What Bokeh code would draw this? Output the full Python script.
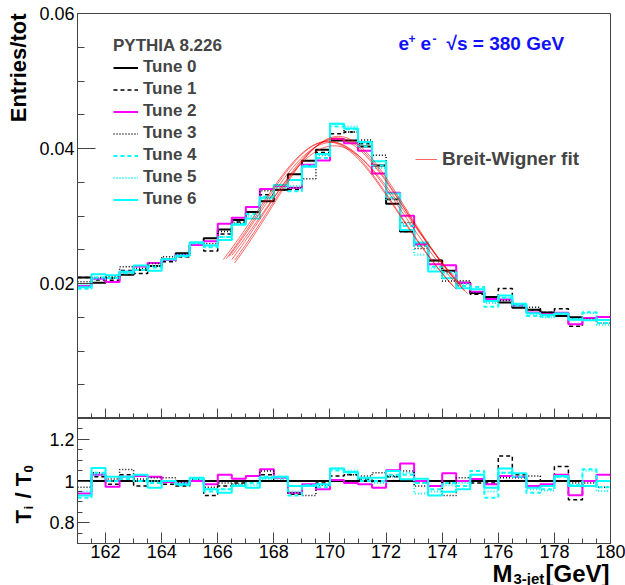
import numpy as np
from bokeh.plotting import figure
from bokeh.layouts import column, row
from bokeh.models import Range1d, FixedTicker, Label, Legend, LegendItem, CustomJSTickFormatter
from bokeh.embed import file_html
from bokeh.resources import INLINE

# ---------------- data ----------------
bin_lo, bin_hi, bin_w = 161.0, 180.0, 0.5
edges = np.arange(bin_lo, bin_hi + 1e-9, bin_w)

tune_names = ["Tune 0", "Tune 1", "Tune 2", "Tune 3", "Tune 4", "Tune 5", "Tune 6"]

tune0 = [0.0209, 0.0201, 0.0208, 0.0213, 0.0220, 0.0226, 0.0236, 0.0245, 0.0257, 0.0267,
         0.0280, 0.0294, 0.0306, 0.0322, 0.0339, 0.0362, 0.0382, 0.0398, 0.0412, 0.0412,
         0.0403, 0.0375, 0.0318, 0.0277, 0.0258, 0.0234, 0.0219, 0.0201, 0.0186, 0.0180,
         0.0172, 0.0164, 0.0161, 0.0157, 0.0152, 0.0150, 0.0149, 0.0146]

# ratios T_i / T_0
ratio1 = [1.00, 1.02, 0.985, 1.03, 0.976, 1.00, 0.984, 0.976, 1.00, 0.93,
          0.976, 0.99, 1.00, 1.03, 1.00, 0.937, 0.98, 0.99, 1.024, 1.03,
          1.01, 1.00, 1.02, 1.00, 0.99, 1.00, 0.99, 1.00, 0.99, 0.99,
          1.12, 1.03, 1.00, 1.00, 1.07, 0.91, 1.00, 1.00]
ratio2 = [0.94, 1.03, 0.973, 1.02, 1.024, 1.02, 0.995, 0.989, 1.00, 0.984,
          1.03, 1.011, 1.024, 1.056, 1.016, 0.944, 0.984, 0.96, 1.005, 0.99,
          0.984, 0.968, 1.052, 1.084, 1.00, 0.976, 1.037, 1.00, 1.01, 0.984,
          1.024, 1.02, 0.976, 0.984, 1.03, 0.932, 1.00, 1.03]
ratio3 = [0.97, 1.04, 1.01, 1.055, 1.01, 1.016, 1.016, 0.99, 1.01, 0.97,
          0.99, 0.984, 1.00, 1.048, 1.00, 0.944, 0.93, 0.98, 1.06, 1.03,
          1.024, 1.04, 1.024, 1.048, 0.976, 1.00, 0.93, 1.016, 1.00, 1.00,
          1.016, 1.016, 1.024, 1.00, 1.00, 0.99, 0.99, 0.97]
ratio4 = [0.92, 1.04, 1.00, 1.01, 1.00, 0.99, 1.00, 0.98, 1.01, 0.95,
          0.96, 0.98, 0.99, 1.02, 1.02, 0.93, 0.98, 0.97, 1.05, 1.04,
          1.00, 1.00, 1.03, 1.03, 0.99, 0.96, 0.99, 0.976, 1.048, 0.92,
          1.04, 1.02, 0.944, 0.96, 1.02, 0.98, 1.056, 0.97]
ratio5 = [0.95, 1.03, 1.00, 1.02, 1.00, 1.00, 1.00, 0.99, 1.01, 0.96,
          0.96, 0.98, 0.98, 1.01, 1.01, 0.95, 0.98, 0.98, 1.06, 1.05,
          1.01, 0.99, 1.02, 1.04, 0.94, 0.95, 0.98, 0.99, 1.03, 0.95,
          1.04, 1.02, 0.96, 0.955, 1.02, 0.98, 1.05, 0.952]
ratio6 = [0.93, 1.063, 1.02, 1.02, 1.03, 0.968, 1.00, 0.984, 1.016, 0.96,
          0.944, 0.976, 0.968, 1.016, 1.02, 0.976, 0.976, 0.985, 1.06, 1.043,
          1.016, 1.016, 1.048, 1.008, 1.011, 0.93, 0.948, 0.96, 1.03, 0.968,
          1.06, 1.037, 0.968, 0.976, 1.024, 0.976, 0.976, 1.00]

# Breit-Wigner fit parameters per tune
bw_mass = [170.05, 169.95, 170.15, 169.90, 170.25, 170.20, 170.30]
bw_gamma = [8.7, 8.5, 8.9, 8.6, 8.3, 8.5, 8.2]
bw_peak = [0.0409, 0.0411, 0.0404, 0.0410, 0.0416, 0.0414, 0.0418]
bw_lo = [166.4, 166.3, 166.5, 166.2, 166.6, 166.5, 166.6]
bw_hi = [174.6, 174.5, 174.7, 174.4, 174.8, 174.7, 174.9]

x_major = [162, 164, 166, 168, 170, 172, 174, 176, 178, 180]
y_top_major = [0.02, 0.04, 0.06]
y_ratio_major = [0.8, 1.0, 1.2]

# ---------------- styles ----------------
FONT = "Liberation Sans"
AX = "#444444"
styles = [
    dict(line_color="black", line_width=2, line_dash="solid"),
    dict(line_color="black", line_width=1.5, line_dash="4 3"),
    dict(line_color="#ff00ff", line_width=2, line_dash="solid"),
    dict(line_color="black", line_width=1.5, line_dash="1 2"),
    dict(line_color="#00ffff", line_width=2, line_dash="4 3"),
    dict(line_color="#00ffff", line_width=2, line_dash="1 2"),
    dict(line_color="#00ffff", line_width=2, line_dash="solid"),
]

ratios = [[1.0] * len(tune0), ratio1, ratio2, ratio3, ratio4, ratio5, ratio6]
t0 = np.array(tune0)
tunes = [t0 * np.array(r) for r in ratios]

x_range = Range1d(bin_lo, bin_hi)
minor_x = list(np.arange(bin_lo, bin_hi + 1e-9, 0.5))

LW = 36          # width of left title strip
MW = 625 - LW    # width of main panels
TOP_H = 418
BOT_H = 146
OVL = 7          # x-title strip overlaps the ratio panel's bottom border by this much
XT_H = 585 - TOP_H - BOT_H + OVL
FRAME_L = 75     # canvas x of the plot frames' left edge


def style_axes(p):
    p.xgrid.visible = False
    p.ygrid.visible = False
    p.outline_line_color = AX
    p.outline_line_width = 1
    p.background_fill_color = "white"
    p.border_fill_color = "white"
    for ax in (p.xaxis[0], p.yaxis[0]):
        ax.axis_line_color = AX
        ax.major_tick_line_color = AX
        ax.minor_tick_line_color = AX
        ax.major_tick_out = 0
        ax.minor_tick_out = 0
        ax.major_label_text_font = FONT
        ax.major_label_text_font_size = "18px"
        ax.major_label_text_color = "black"


def blank(w, h, transparent=False):
    b = figure(width=w, height=h, x_range=Range1d(0, 1), y_range=Range1d(0, 1),
               x_axis_location=None, y_axis_location=None,
               output_backend="svg", toolbar_location=None,
               min_border=0, min_border_left=0, min_border_right=0,
               min_border_top=0, min_border_bottom=0)
    b.grid.visible = False
    b.outline_line_color = None
    if transparent:
        b.background_fill_alpha = 0
        b.border_fill_alpha = 0
    else:
        b.background_fill_color = "white"
        b.border_fill_color = "white"
    return b


def txt(p, text, x, y, size, angle=0.0, color="black", align="left"):
    p.add_layout(Label(x=x, y=y, x_units="screen", y_units="screen", angle=angle, text=text,
                       text_font=FONT, text_font_style="bold", text_font_size=size,
                       text_color=color, text_align=align, text_baseline="alphabetic"))


# ---------------- top panel ----------------
top = figure(width=MW, height=TOP_H, x_range=x_range, y_range=Range1d(0, 0.06),
             output_backend="svg", toolbar_location=None,
             min_border_left=FRAME_L - LW, min_border_right=15, min_border_top=13, min_border_bottom=0)
style_axes(top)
top.xaxis.ticker = FixedTicker(ticks=x_major, minor_ticks=minor_x)
top.xaxis.major_tick_in = 10
top.xaxis.minor_tick_in = 5
top.xaxis.formatter = CustomJSTickFormatter(code="return ''")
top.xaxis.major_label_text_font_size = "1px"
top.xaxis.major_label_standoff = 0
top.yaxis.ticker = FixedTicker(ticks=y_top_major, minor_ticks=list(np.arange(0, 0.0601, 0.005)))
top.yaxis.major_tick_in = 18
top.yaxis.minor_tick_in = 7
top.yaxis.major_label_standoff = 3

hist_renderers = []
for vals, st in zip(tunes, styles):
    ys = list(vals) + [vals[-1]]
    r = top.step(list(edges), ys, mode="after", **st)
    hist_renderers.append(r)

fit_renderers = []
for m, g, a, lo, hi in zip(bw_mass, bw_gamma, bw_peak, bw_lo, bw_hi):
    xs = np.linspace(lo, hi, 120)
    hw2 = (g / 2.0) ** 2
    ys = a * hw2 / ((xs - m) ** 2 + hw2)
    r = top.line(xs, ys, line_color="#ff0000", line_alpha=0.6, line_width=1)
    fit_renderers.append(r)

leg = Legend(items=[LegendItem(label=n, renderers=[r]) for n, r in zip(tune_names, hist_renderers)],
             location=(36, 209), title="PYTHIA 8.226",
             title_text_font=FONT, title_text_font_style="bold", title_text_font_size="17px",
             title_standoff=1,
             label_text_font=FONT, label_text_font_style="bold", label_text_font_size="17px",
             glyph_width=25, glyph_height=19, label_height=19, label_standoff=5, spacing=2,
             padding=0, margin=0, background_fill_alpha=0, border_line_color=None)
top.add_layout(leg)

leg2 = Legend(items=[LegendItem(label="Breit-Wigner fit", renderers=[fit_renderers[0]])],
              location=(338, 248),
              label_text_font=FONT, label_text_font_style="bold", label_text_font_size="19px",
              glyph_width=22, glyph_height=22, label_height=22, label_standoff=5,
              padding=0, margin=0, background_fill_alpha=0, border_line_color=None)
top.add_layout(leg2)

# energy label (frame-relative screen coordinates)
blue = "#1010ff"
ey = TOP_H - 50 + 7
for t, x, dy, size in [("e", 396, 0, "19px"), ("+", 406, 5, "12px"), ("e", 418, 0, "19px"),
                       ("-", 430, 5, "12px"), ("\u221as = 380 GeV", 444, 0, "19px")]:
    txt(top, t, x - FRAME_L, ey + dy, size, color=blue)

# ---------------- ratio panel ----------------
bot = figure(width=MW, height=BOT_H, x_range=x_range, y_range=Range1d(0.7, 1.3),
             output_backend="svg", toolbar_location=None,
             min_border_left=FRAME_L - LW, min_border_right=15, min_border_top=0, min_border_bottom=21)
style_axes(bot)
bot.xaxis.ticker = FixedTicker(ticks=x_major, minor_ticks=minor_x)
bot.xaxis.major_tick_in = 11
bot.xaxis.minor_tick_in = 5
bot.xaxis.major_label_standoff = 1
bot.yaxis.ticker = FixedTicker(ticks=y_ratio_major, minor_ticks=list(np.arange(0.7, 1.3001, 0.05)))
bot.yaxis.major_tick_in = 12
bot.yaxis.minor_tick_in = 5
bot.yaxis.major_label_standoff = 3
bot.yaxis.major_label_overrides = {0.8: "0.8", 1.0: "1", 1.2: "1.2"}

for r, st in zip(ratios, styles):
    ys = list(r) + [r[-1]]
    bot.step(list(edges), ys, mode="after", **st)

# ---------------- title strips ----------------
ltop = blank(LW, TOP_H)
txt(ltop, "Entries/tot", 18, TOP_H - 13, "22px", angle=np.pi / 2, align="right")

lbot = blank(LW, BOT_H)
ybase = TOP_H + BOT_H   # canvas y of the strip bottom
for t, cy, bx, size in [("T", 523, 23, "22px"), ("i", 509, 28, "13px"),
                        ("/ T", 498, 23, "22px"), ("0", 472, 28, "13px")]:
    txt(lbot, t, bx, ybase - cy, size, angle=np.pi / 2)

lpad = blank(LW, XT_H - OVL)

# x title strip: transparent, pulled up over the ratio panel's bottom border;
# its frame is aligned with the plot frames above (canvas x 75..610)
xt = blank(MW, XT_H, transparent=True)
xt.margin = (-OVL, 0, 0, 0)
for t, cx, cy, size in [("M", 490, 581, "24px"), ("3-jet", 511, 583, "15px"),
                        ("[GeV]", 543, 581, "24px")]:
    shift = 8 if size == "24px" else 5
    txt(xt, t, cx - FRAME_L, 585 - cy + shift, size)

layout = row(column(ltop, lbot, lpad, spacing=0), column(top, bot, xt, spacing=0), spacing=0)
open("out.html", "w").write(file_html(layout, INLINE))
